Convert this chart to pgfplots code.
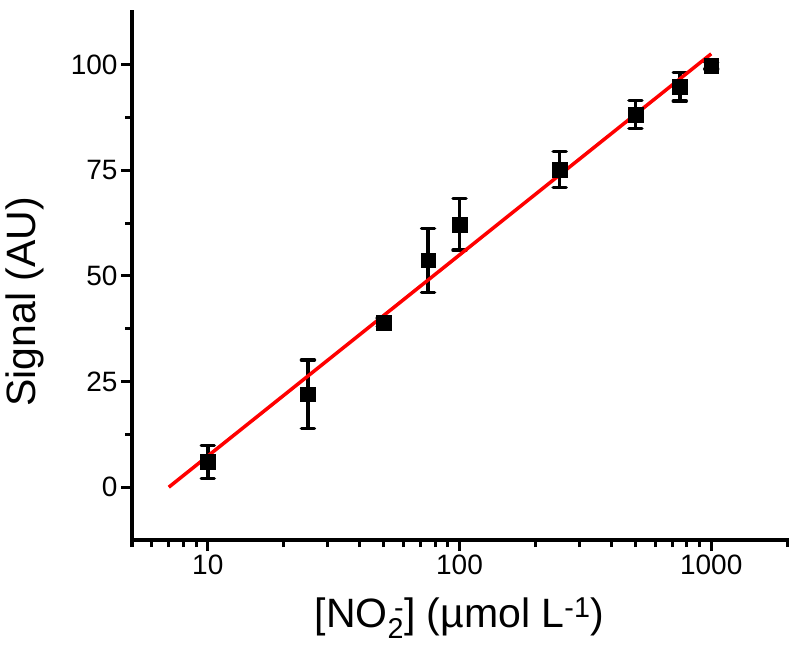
\documentclass[border=0pt]{standalone}
\usepackage{fontspec}
\setmainfont{Liberation Sans}
\usepackage{pgfplots}
\pgfplotsset{compat=1.18}
\begin{document}
\begin{tikzpicture}
\useasboundingbox (-132pt,-121pt) rectangle (668pt,540pt);
\begin{axis}[
  at={(0,0)}, anchor=south west,
  scale only axis, width=655pt, height=528pt,
  xmode=log, xmin=5, xmax=2000,
  ymin=-12.5, ymax=112.5,
  axis lines*=left,
  axis line style={line width=3.5pt, line cap=rect},
  tick align=outside,
  major tick length=11pt, minor tick length=7pt,
  major tick style={black, line width=3pt},
  minor tick style={black, line width=3pt},
  xtick={10,100,1000}, xticklabels={10,100,1000},
  minor xtick={5,6,7,8,9,20,30,40,50,60,70,80,90,200,300,400,500,600,700,800,900,2000},
  ytick={0,25,50,75,100}, minor y tick num=1,
  /pgf/number format/assume math mode=true,
  tick label style={font=\fontsize{28}{32}\selectfont},
  xlabel={[NO\textsubscript{2}\llap{\textsuperscript{-}}] (µmol L\textsuperscript{-1})},
  ylabel={Signal (AU)},
  label style={font=\fontsize{41}{46}\selectfont},
  xlabel style={at={(axis description cs:0.5,0)}, anchor=base, yshift=-87pt},
  ylabel style={at={(axis description cs:0,0.451)}, anchor=center, yshift=107pt},
  clip=false,
]
\addplot[only marks, mark=square*, mark size=7.3pt, black,
  error bars/.cd, y dir=both, y explicit,
  error bar style={line width=3.5pt, black},
  error mark options={rotate=90, mark size=6.5pt, line width=3.5pt, line cap=round, black}]
  table[x=x, y=y, y error=e] {
  x y e
  10 6.0 3.9
  25 22.0 8.1
  50 39.0 1.0
  75 53.7 7.6
  100 62.2 6.1
  250 75.2 4.3
  500 88.2 3.3
  750 94.8 3.4
  1000 99.8 0.8
};
\addplot[red, line width=3.5pt, no marks] coordinates {(7.0,0) (1000,102.6)};
\end{axis}
\end{tikzpicture}
\end{document}
